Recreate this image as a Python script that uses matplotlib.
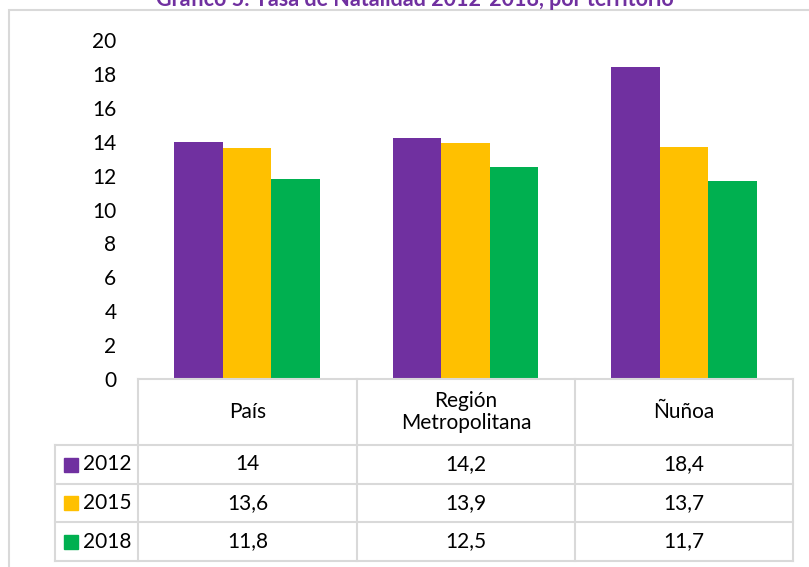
import matplotlib.pyplot as plt
from matplotlib.patches import Rectangle
from matplotlib.lines import Line2D
import numpy as np

plt.rcParams['font.family'] = ['Lato', 'DejaVu Sans']

territorios = ['País', 'Región\nMetropolitana', 'Ñuñoa']
anios = ['2012', '2015', '2018']
tasa_2012 = [14, 14.2, 18.4]
tasa_2015 = [13.6, 13.9, 13.7]
tasa_2018 = [11.8, 12.5, 11.7]
colores = ['#7030A0', '#FFC000', '#00B050']
yticks = np.arange(0, 21, 2)

W, H = 809, 567
fig = plt.figure(figsize=(W / 100, H / 100), dpi=100)

def fx(px):
    return px / W

def fy(py):
    return 1 - py / H

# marco exterior
fig.add_artist(Rectangle((fx(9), fy(600)), fx(900), fy(10) - fy(600), fill=False,
                         edgecolor='#D9D9D9', lw=1.5, transform=fig.transFigure))

fig.text(fx(415), fy(0), 'Gráfico 5: Tasa de Natalidad 2012-2018, por territorio',
         ha='center', va='center', color='#7030A0', fontsize=15.5, fontweight='bold')

fs = 15
x0, x1, ytop, ybot = 138, 793, 40, 379
ax = fig.add_axes([fx(x0), fy(ybot), fx(x1) - fx(x0), fy(ytop) - fy(ybot)])
series = [tasa_2012, tasa_2015, tasa_2018]
x = np.arange(len(territorios))
bw = 0.222
for i, vals in enumerate(series):
    ax.bar(x + (i - 1) * bw, vals, bw, color=colores[i])
ax.set_xlim(-0.5, 2.5)
ax.set_ylim(0, 20)
ax.set_yticks(yticks)
ax.set_yticklabels([str(v) for v in yticks], fontsize=fs)
ax.tick_params(axis='y', length=0, pad=15.5)
ax.set_xticks([])
for s in ax.spines.values():
    s.set_visible(False)

# tabla de datos
gris = '#D9D9D9'
cols = [138, 357, 575, 793]
rows = [379, 445, 484, 522, 561]
leg_x = 55

def hline(y, xa, xb):
    fig.add_artist(Line2D([fx(xa), fx(xb)], [fy(y), fy(y)], color=gris, lw=1.5))

def vline(x_, ya, yb):
    fig.add_artist(Line2D([fx(x_), fx(x_)], [fy(ya), fy(yb)], color=gris, lw=1.5))

hline(rows[0], cols[0], cols[-1])
for r in rows[1:]:
    hline(r, leg_x, cols[-1])
for c in cols:
    vline(c, rows[0], rows[-1])
vline(leg_x, rows[1], rows[-1])

for j, t in enumerate(territorios):
    cx = (cols[j] + cols[j + 1]) / 2
    fig.text(fx(cx), fy((rows[0] + rows[1]) / 2), t, ha='center', va='center',
             fontsize=fs, linespacing=1.15)
    for i, vals in enumerate(series):
        txt = f'{vals[j]:g}'.replace('.', ',')
        fig.text(fx(cx), fy((rows[i + 1] + rows[i + 2]) / 2), txt,
                 ha='center', va='center', fontsize=fs)

for i, a in enumerate(anios):
    cy = (rows[i + 1] + rows[i + 2]) / 2
    fig.add_artist(Rectangle((fx(64), fy(cy + 7)), fx(14), fy(cy - 7) - fy(cy + 7),
                             color=colores[i], transform=fig.transFigure))
    fig.text(fx(83), fy(cy), a, ha='left', va='center', fontsize=fs)

fig.savefig('out.png', dpi=100)
